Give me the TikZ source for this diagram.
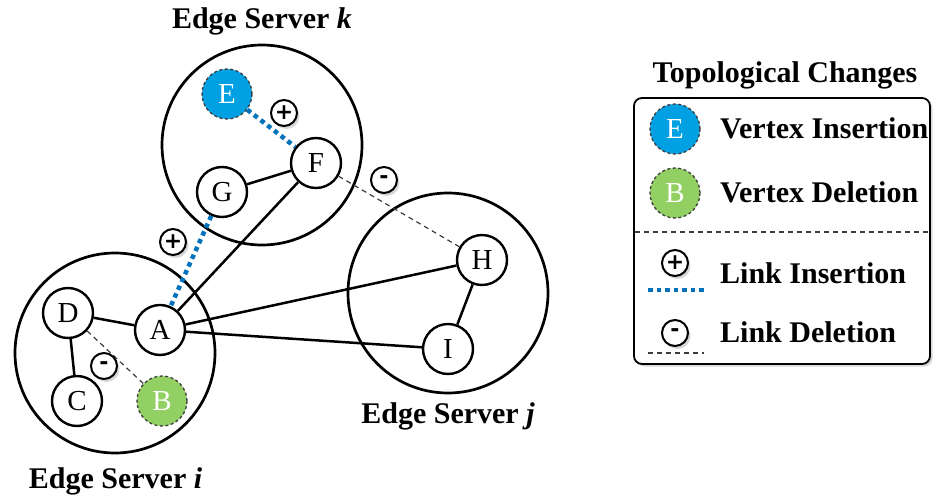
\documentclass[tikz,border=0pt]{standalone}
\usepackage{fontspec}
\setmainfont{Liberation Serif}
\newfontfamily\symfont{DejaVu Sans}
\usetikzlibrary{shadows}

\definecolor{insblue}{RGB}{0,160,226}
\definecolor{delgreen}{RGB}{146,208,100}
\definecolor{linkblue}{RGB}{0,114,188}
\definecolor{rimgray}{RGB}{60,60,60}

\tikzset{
  server/.style={circle, draw=black, line width=2.7pt, minimum size=200pt, inner sep=0pt},
  vertex/.style={circle, draw=black, line width=2.4pt, fill=white, minimum size=50pt,
                 inner sep=0pt, font=\fontsize{29}{31}\selectfont},
  newvertex/.style={vertex, draw=rimgray, line width=1.3pt, dash pattern=on 3pt off 2.5pt,
                    fill=insblue, text=white},
  goneverts/.style={vertex, draw=rimgray, line width=1.3pt, dash pattern=on 3pt off 2.5pt,
                    fill=delgreen, text=white},
  link/.style={line width=2.5pt},
  addlink/.style={draw=linkblue, line width=4.5pt, dash pattern=on 4.5pt off 4pt},
  droplink/.style={draw=rimgray, line width=1.2pt, dash pattern=on 5pt off 4pt},
  badge/.style={circle, draw=black, line width=2pt, fill=white, minimum size=26pt,
                inner sep=0pt, drop shadow={shadow xshift=2.5pt, shadow yshift=-3pt, fill=black!30},
                font=\symfont\bfseries\fontsize{22}{22}\selectfont},
  caption/.style={font=\bfseries\fontsize{30}{32}\selectfont, anchor=base, inner sep=0pt},
  legtext/.style={font=\bfseries\fontsize{30}{32}\selectfont, anchor=base west, inner sep=0pt},
}

\begin{document}
\begin{tikzpicture}[x=1pt, y=-1pt]
  \useasboundingbox (0,0) rectangle (935,498);

  % edge servers
  \node[server] (sk) at (262,145) {};
  \node[server] (si) at (115,353) {};
  \node[server] (sj) at (448,293) {};

  \node[caption] (lk) at (262,28) {Edge Server \textit{k}};
  \node[caption] (li) at (115.5,488) {Edge Server \textit{i}};
  \node[caption] (lj) at (448,423) {Edge Server \textit{j}};

  % vertices
  \node[newvertex] (E) at (227,94) {E};
  \node[vertex] (F) at (316,163) {F};
  \node[vertex] (G) at (222,192) {G};
  \node[vertex] (D) at (68,313) {D};
  \node[vertex] (A) at (160,330) {A};
  \node[vertex] (C) at (77,401) {C};
  \node[goneverts] (B) at (162,401) {B};
  \node[vertex] (H) at (482,260) {H};
  \node[vertex] (I) at (448,349) {I};

  % links
  \draw[link] (G) -- (F);
  \draw[link] (A) -- (F);
  \draw[link] (A) -- (H);
  \draw[link] (A) -- (I);
  \draw[link] (H) -- (I);
  \draw[link] (D) -- (A);
  \draw[link] (D) -- (C);
  \draw[addlink] (E) -- (F);
  \draw[addlink] (G) -- (A);
  \draw[droplink] (F) -- (H);
  \draw[droplink] (D) -- (B);

  % change markers
  \node[badge] (p1) at (284,113) {+};
  \node[badge] (m1) at (384,180) {-};
  \node[badge] (p2) at (173,242) {+};
  \node[badge] (m2) at (104,366) {-};

  % legend
  \node[caption] (lt) at (785,82) {Topological Changes};
  \draw[line width=1.8pt, rounded corners=8pt, fill=white,
        drop shadow={shadow xshift=2.5pt, shadow yshift=-2.5pt, fill=black!30}]
    (634,98) rectangle (930,364);
  \coordinate (sepL) at (635,232);
  \coordinate (sepR) at (929,232);
  \draw[droplink] (sepL) -- (sepR);

  \node[newvertex] (lE) at (675,129) {E};
  \node[legtext] (tE) at (720,138) {Vertex Insertion};
  \node[goneverts] (lB) at (675,193) {B};
  \node[legtext] (tB) at (720,202) {Vertex Deletion};

  \node[badge] (lp) at (675,263) {+};
  \coordinate (liL) at (648,290);
  \coordinate (liR) at (704,290);
  \draw[addlink] (liL) -- (liR);
  \node[legtext] (tp) at (720,283) {Link Insertion};

  \node[badge] (lm) at (675,333) {-};
  \coordinate (ldL) at (648,353);
  \coordinate (ldR) at (704,353);
  \draw[droplink] (ldL) -- (ldR);
  \node[legtext] (tm) at (720,342) {Link Deletion};
\end{tikzpicture}
\end{document}
